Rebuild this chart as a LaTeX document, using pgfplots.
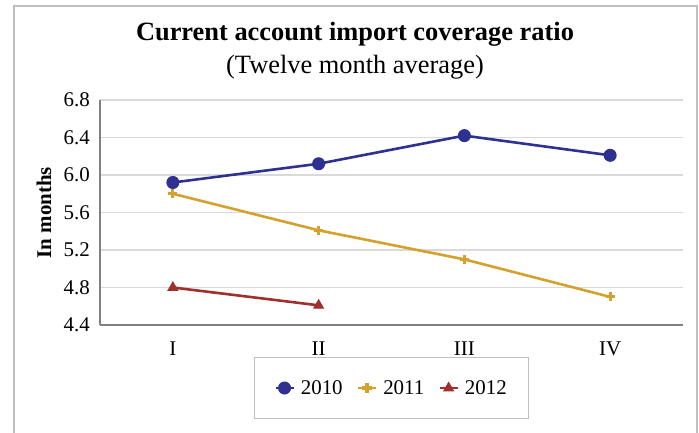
\documentclass[border=0pt]{standalone}
\usepackage{fontspec}
\setmainfont{Liberation Serif}
\usepackage{pgfplots}
\pgfplotsset{compat=1.18}
\definecolor{c10}{RGB}{46,49,146}
\definecolor{c11}{RGB}{214,160,44}
\definecolor{c12}{RGB}{160,48,44}
\definecolor{gridc}{RGB}{217,217,217}
\definecolor{axisc}{RGB}{128,128,128}
\definecolor{framec}{RGB}{191,191,191}
\begin{document}
\begin{tikzpicture}
\begin{axis}[
  scale only axis,
  width=583bp, height=225bp,
  xmin=-0.5, xmax=3.5, ymin=4.4, ymax=6.8,
  xtick={0,1,2,3}, xticklabels={I,II,III,IV},
  ytick={4.4,4.8,5.2,5.6,6.0,6.4,6.8},
  yticklabel style={/pgf/number format/fixed, /pgf/number format/fixed zerofill, /pgf/number format/precision=1},
  /pgf/number format/assume math mode=true,
  major tick length=0pt,
  axis x line*=bottom, axis y line*=left,
  axis line style={axisc, line width=1.5bp, -},
  ymajorgrids, grid style={gridc, line width=1.2bp},
  tick label style={font=\fontsize{21}{24}\selectfont},
  yticklabel style={inner sep=0pt, xshift=-10bp},
  xticklabel style={inner sep=0pt, yshift=-17bp},
  ylabel={In months},
  every axis y label/.style={at={(axis description cs:-0.096,0.5)}, rotate=90, anchor=center, font=\fontsize{21}{24}\selectfont\bfseries},
  legend columns=3,
  legend style={at={(0.5,-0.28)}, anchor=center, draw=framec, line width=1bp,
    font=\fontsize{21}{24}\selectfont, inner xsep=20bp, inner ysep=20.5bp,
    /tikz/every even column/.append style={column sep=12bp},
    /tikz/every odd column/.append style={column sep=4bp}},
  legend image code/.code={\draw[#1, mark repeat=2, mark phase=2] plot coordinates {(0bp,0bp) (9bp,0bp) (18bp,0bp)};},
]
\addplot[c10, line width=2.6bp, mark=*, mark size=6bp, mark options={solid, fill=c10, line width=1bp}] coordinates {(0,5.92) (1,6.12) (2,6.42) (3,6.21)};
\addlegendentry{2010}
\addplot[c11, line width=2.6bp, mark=+, mark size=4.6bp, mark options={solid, line width=3.2bp}] coordinates {(0,5.80) (1,5.41) (2,5.10) (3,4.70)};
\addlegendentry{2011}
\addplot[c12, line width=2.6bp, mark=triangle*, mark size=5.5bp, mark options={solid, fill=c12, line width=1bp}] coordinates {(0,4.80) (1,4.61)};
\addlegendentry{2012}
\coordinate (O) at (rel axis cs:0,0);
\end{axis}
\begin{scope}[shift={(O)}, x=1bp, y=1bp]
\pgfresetboundingbox
\useasboundingbox (-100,325) rectangle (599,-107);
\draw[framec, line width=2bp] (-86,319) rectangle (597,-130);
\node[font=\fontsize{26.5}{30}\selectfont\bfseries, anchor=base] at (255,285) {Current account import coverage ratio};
\node[font=\fontsize{26.5}{30}\selectfont, anchor=base] at (255,252) {(Twelve month average)};
\end{scope}
\end{tikzpicture}
\end{document}
